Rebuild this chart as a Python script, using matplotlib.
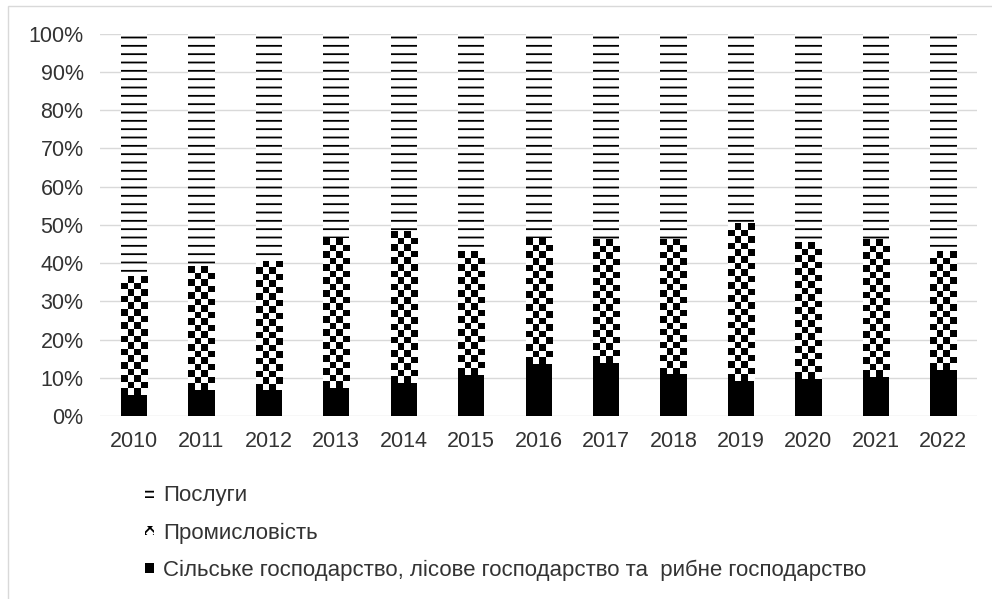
import numpy as np
import matplotlib
matplotlib.use("Agg")
import matplotlib.pyplot as plt
from matplotlib.patches import Patch, Rectangle

plt.rcParams['font.family'] = ['Liberation Sans', 'DejaVu Sans']
plt.rcParams['hatch.linewidth'] = 1.3

years = ['2010', '2011', '2012', '2013', '2014', '2015', '2016',
         '2017', '2018', '2019', '2020', '2021', '2022']
# shares, %
agri = [5.5, 6.8, 6.8, 7.2, 8.7, 10.7, 13.6, 13.9, 11.1, 9.1, 9.6, 10.3, 12.0]
industry = [31.1, 32.2, 33.6, 39.2, 39.6, 32.2, 32.8, 32.4, 35.2, 41.1, 35.7, 36.0, 30.9]
services = [63.4, 61.0, 59.6, 53.6, 51.7, 57.1, 53.6, 53.7, 53.7, 49.8, 54.7, 53.7, 57.1]

labels = ['Послуги', 'Промисловість',
          'Сільське господарство, лісове господарство та  рибне господарство']

text_col = '#333333'
fs = 15.5
fig = plt.figure(figsize=(9.92, 5.99), dpi=100)
ax = fig.add_axes([0.101, 0.3055, 0.884, 0.6385])

x = np.arange(len(years))
w = 0.39
agri_s = np.array(agri) / 100
ind_s = np.array(industry) / 100
serv_s = np.array(services) / 100

ax.bar(x, agri_s, w, color='black', linewidth=0, zorder=2)
ind_bars = ax.bar(x, ind_s, w, bottom=agri_s, color='white', linewidth=0, zorder=2)
ax.bar(x, serv_s, w, bottom=agri_s + ind_s, facecolor='white',
       edgecolor='black', hatch='--', linewidth=0, zorder=2)

# checkerboard fill for industry bars
cell = 0.017
for b in ind_bars:
    bx, by = b.get_x(), b.get_y()
    bw, bh = b.get_width(), b.get_height()
    nrows = max(1, int(round(bh / cell)))
    ii, jj = np.indices((nrows, 4))
    chk = ((ii + jj) % 2).astype(float)
    ax.imshow(chk, cmap='gray', extent=(bx, bx + bw, by, by + bh),
              aspect='auto', interpolation='nearest', zorder=3, origin='lower')

ax.set_xlim(-0.5, len(years) - 0.5)
ax.set_ylim(0, 1)
ax.set_yticks(np.arange(0, 1.01, 0.1))
ax.set_yticklabels([f'{int(round(v * 100))}%' for v in np.arange(0, 1.01, 0.1)])
ax.set_xticks(x)
ax.set_xticklabels(years)
ax.grid(axis='y', color='#d9d9d9', linewidth=1)
ax.set_axisbelow(True)
for s in ax.spines.values():
    s.set_visible(False)
ax.tick_params(axis='both', length=0, labelsize=fs, labelcolor=text_col)
ax.tick_params(axis='y', pad=12)
ax.tick_params(axis='x', pad=11)

handles = [
    Patch(facecolor='white', edgecolor='black', hatch='---', linewidth=0),
    Patch(facecolor='white', edgecolor='black', hatch='xxx', linewidth=0),
    Patch(facecolor='black', linewidth=0),
]
fig.legend(handles, labels, loc='upper left', bbox_to_anchor=(0.146, 0.19),
           frameon=False, fontsize=16, labelcolor=text_col,
           handlelength=0.42, handleheight=0.3, handletextpad=0.4,
           labelspacing=0.73, borderaxespad=0, borderpad=0)

fig.patches.append(Rectangle((0.008, -0.01), 1.2, 1.0, transform=fig.transFigure,
                             fill=False, edgecolor='#d9d9d9', linewidth=1))

fig.savefig('out.png', dpi=100)
